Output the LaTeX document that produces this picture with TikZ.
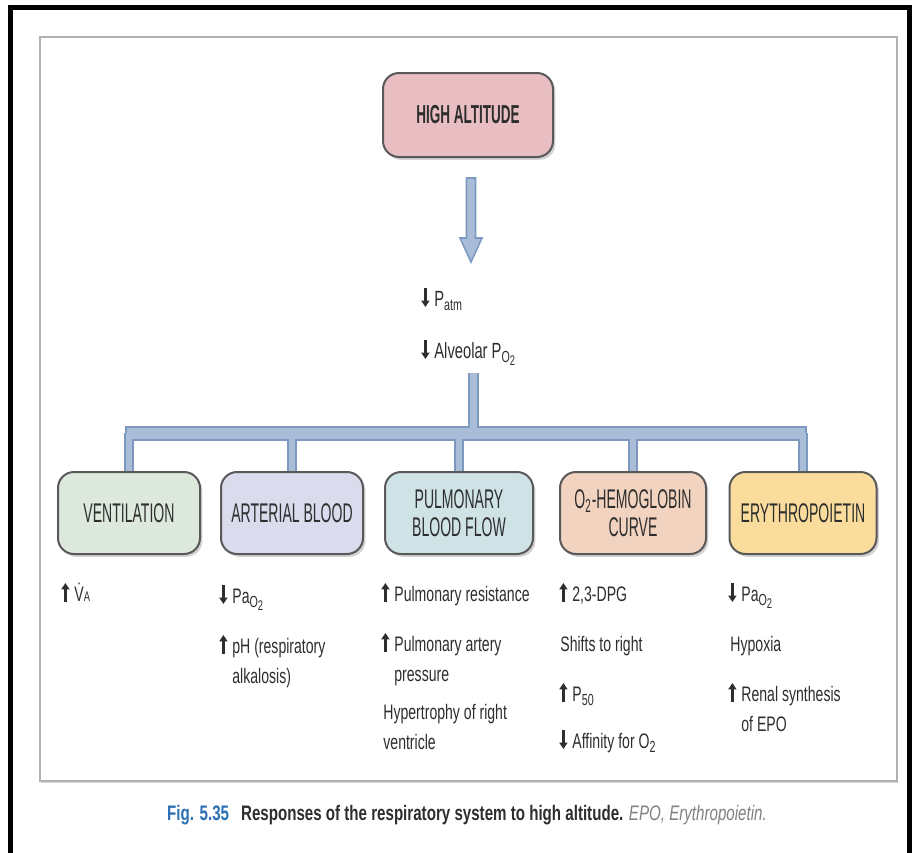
\documentclass[tikz,border=0pt]{standalone}
\usepackage{fontspec}
\setmainfont{Liberation Sans}[FakeStretch=0.67]
\newfontfamily\boxfont{Liberation Sans}[FakeStretch=0.52]
\newfontfamily\capfont{Liberation Sans}[FakeStretch=0.72]
\usetikzlibrary{positioning, calc, arrows.meta, shadows, backgrounds}
\tikzset{>=latex}
\definecolor{boxline}{HTML}{595959}
\definecolor{pipefill}{HTML}{A9BDD8}
\definecolor{pipeline}{HTML}{7D99BF}
\definecolor{txtgray}{HTML}{2E2E2E}
\definecolor{altpink}{HTML}{E8BEC2}
\definecolor{ventgreen}{HTML}{DDE9DC}
\definecolor{artlilac}{HTML}{DADBEC}
\definecolor{pulteal}{HTML}{CFE3E7}
\definecolor{hempeach}{HTML}{F1D3C0}
\definecolor{epoyellow}{HTML}{FADD9C}
\definecolor{figblue}{HTML}{2C6FB3}
\tikzset{
  rbox/.style={draw=boxline, line width=1pt, rounded corners=8pt,
    minimum width=71pt, minimum height=41pt, align=center, text=txtgray,
    font=\boxfont\fontsize{13.5}{14}\selectfont,
    drop shadow={shadow xshift=1.2pt, shadow yshift=-1.4pt, opacity=0.35}},
  item/.style={anchor=base west, inner sep=0pt, align=left, text=txtgray,
    font=\fontsize{10.5}{15}\selectfont},
  pipeedge/.style={draw=pipeline, line width=#1},
  pipecore/.style={draw=pipefill, line width=#1},
}
\newcommand\upar{\tikz[baseline=0pt,x=1pt,y=1pt]\draw[line width=1.2pt,-{Triangle[length=3.2pt,width=4pt]}] (0,-0.5) -- (0,9);\hspace{2.5pt}}
\newcommand\dnar{\tikz[baseline=0pt,x=1pt,y=1pt]\draw[line width=1.2pt,-{Triangle[length=3.2pt,width=4pt]}] (0,9) -- (0,-0.5);\hspace{2.5pt}}
\newcommand\twolines[2]{\begin{tabular}[t]{@{}l@{}}#1\\#2\end{tabular}}
\newcommand\sbs[1]{\raisebox{-0.4ex}{\footnotesize #1}}
\newcommand\otwo{\sbs{O\raisebox{-0.35ex}{\scriptsize 2}}}

\begin{document}
\begin{tikzpicture}[x=0.5pt,y=-0.5pt]
    \useasboundingbox (0,0) rectangle (920,852);
    \begin{scope}[on background layer]
      \fill[white] (0,0) rectangle (920,852);
      \draw[line width=2.5pt] (10,870) -- (10,7) -- (909,7) -- (909,870);
      \draw[draw=gray!60, fill=white, line width=1pt,
        drop shadow={shadow xshift=0.6pt, shadow yshift=-0.8pt, opacity=0.3}] (40,37) rectangle (897,781);
    \end{scope}

    \node[rbox, fill=altpink, minimum width=85pt, minimum height=42pt,
      font=\boxfont\bfseries\fontsize{13}{14}\selectfont] (high) at (468,115) {HIGH ALTITUDE};

    \node[item, font=\fontsize{11}{15}\selectfont] (patm) at (421,306) {\dnar P\sbs{atm}};
    \node[item, font=\fontsize{11}{15}\selectfont] (palv) at (421,358) {\dnar Alveolar P\otwo};

    \node[rbox, fill=ventgreen] (vent) at (129,513) {VENTILATION};
    \node[rbox, fill=artlilac] (art) at (292,513) {ARTERIAL BLOOD};
    \node[rbox, fill=pulteal, minimum width=74pt] (pul) at (459,513) {PULMONARY\\BLOOD FLOW};
    \node[rbox, fill=hempeach, minimum width=73pt] (hem) at (633,513) {O\textsubscript{2}-HEMOGLOBIN\\CURVE};
    \node[rbox, fill=epoyellow, minimum width=73.5pt] (epo) at (803,513) {ERYTHROPOIETIN};

    % big arrow under the top box
    \coordinate (atop) at ($(high.south)+(3,20)$);
    \coordinate (atip) at (471,262);
    \filldraw[fill=pipefill, draw=pipeline, line width=0.8pt] ($(atop)+(-4.5,0)$) -- ($(atop)+(4.5,0)$)
      -- ($(atip)+(4.5,-24)$) -- ($(atip)+(11,-24)$) -- (atip) -- ($(atip)+(-11,-24)$)
      -- ($(atip)+(-4.5,-24)$) -- cycle;

    \coordinate (stemtop) at (473,373);
    \coordinate (bus) at (473,433);
    \begin{scope}[on background layer]
      \draw[pipeedge=5.5pt] (stemtop) -- (bus);
      \draw[pipeedge=7.5pt] ($(vent.north |- bus)+(-4,0)$) -- ($(epo.north |- bus)+(4,0)$);
      \foreach \b in {vent,art,pul,hem,epo}
        \draw[pipeedge=5pt] (\b.north |- bus) -- (\b.north);
      \draw[pipecore=3.5pt] (stemtop) -- (bus);
      \draw[pipecore=5.5pt, shorten <=1pt, shorten >=1pt] ($(vent.north |- bus)+(-4,0)$) -- ($(epo.north |- bus)+(4,0)$);
      \foreach \b in {vent,art,pul,hem,epo}
        \draw[pipecore=3pt] (\b.north |- bus) -- (\b.north);
    \end{scope}

    \node[item] (ven1) at (61,601) {\upar\.{V}{\scriptsize A}};

    \node[item] (art1) at (219,603) {\dnar Pa\otwo};
    \node[item] (art2) at (219,653) {\upar\twolines{pH (respiratory}{alkalosis)}};

    \node[item] (pul1) at (381,601) {\upar Pulmonary resistance};
    \node[item] (pul2) at (381,651) {\upar\twolines{Pulmonary artery}{pressure}};
    \node[item] (pul3) at (383,719) {\twolines{Hypertrophy of right}{ventricle}};

    \node[item] (hem1) at (559,601) {\upar 2,3-DPG};
    \node[item] (hem2) at (560,651) {Shifts to right};
    \node[item] (hem3) at (559,701) {\upar P\sbs{50}};
    \node[item] (hem4) at (559,748) {\dnar Affinity for O\sbs{2}};

    \node[item] (epo1) at (728,601) {\dnar Pa\otwo};
    \node[item] (epo2) at (730,651) {Hypoxia};
    \node[item] (epo3) at (728,701) {\upar\twolines{Renal synthesis}{of EPO}};

    \node[font=\capfont\fontsize{10.5}{12}\selectfont, text=txtgray] (cap) at (467,815)
      {\textcolor{figblue}{\bfseries Fig. 5.35}\hspace{6pt}{\bfseries Responses of the respiratory system to high altitude.} \textcolor{gray}{\itshape EPO, Erythropoietin.}};
\end{tikzpicture}
\end{document}
